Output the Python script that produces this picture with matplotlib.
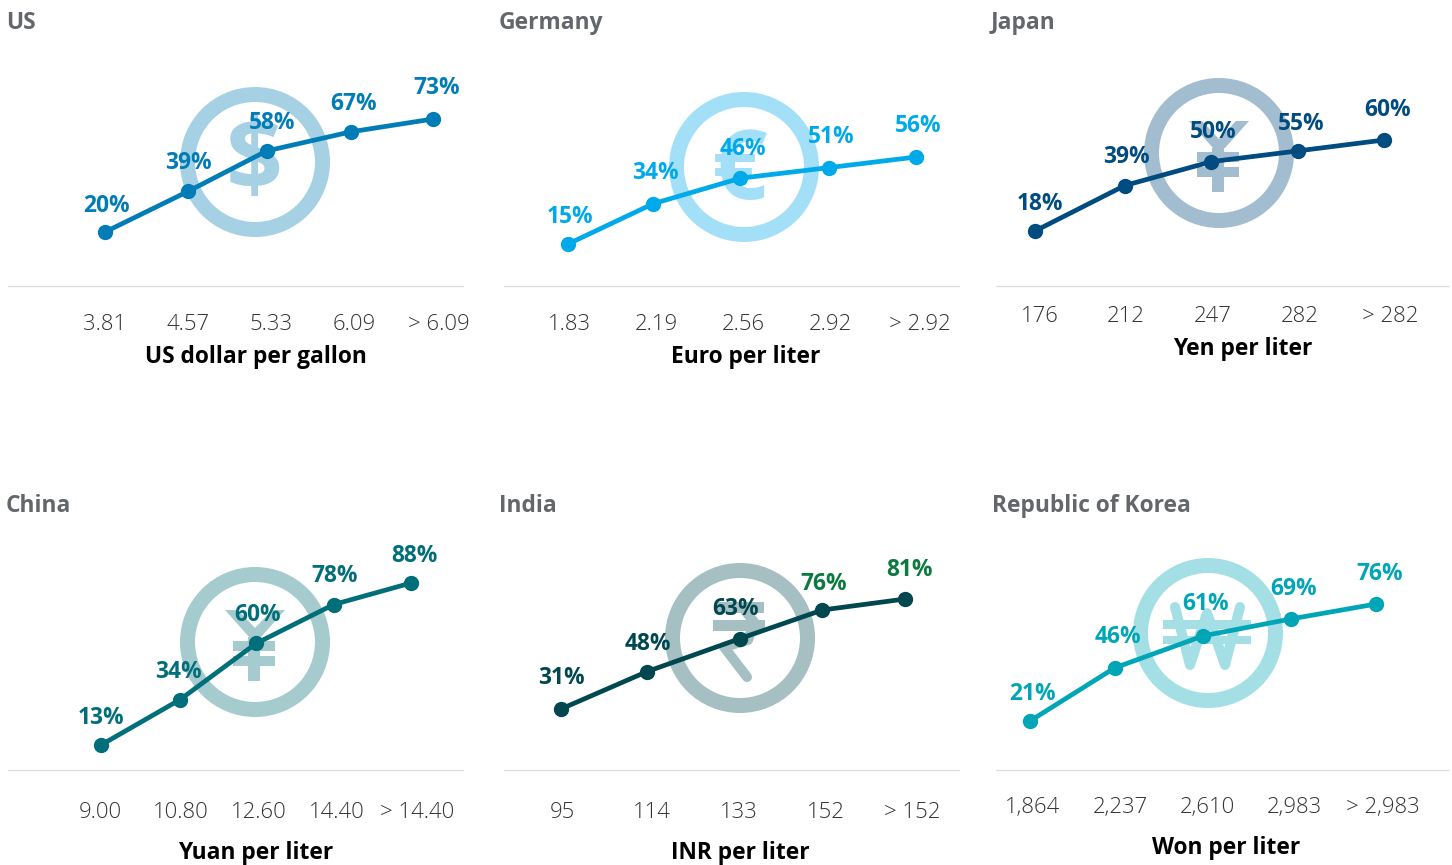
import matplotlib
matplotlib.use("Agg")
import matplotlib.pyplot as plt
from matplotlib.patches import Circle, Polygon, Rectangle
from matplotlib.transforms import Affine2D

W, H = 1452, 865
plt.rcParams['font.family'] = ['Open Sans', 'DejaVu Sans']

# data
countries = ['US', 'Germany', 'Japan', 'China', 'India', 'Republic of Korea']
units = ['US dollar per gallon', 'Euro per liter', 'Yen per liter',
         'Yuan per liter', 'INR per liter', 'Won per liter']
symbols = ['$', '€', 'yen', 'yen', 'rupee', 'won']

us_share = [20, 39, 58, 67, 73]
germany_share = [15, 34, 46, 51, 56]
japan_share = [18, 39, 50, 55, 60]
china_share = [13, 34, 60, 78, 88]
india_share = [31, 48, 63, 76, 81]
korea_share = [21, 46, 61, 69, 76]
shares = [us_share, germany_share, japan_share, china_share, india_share, korea_share]

us_ticks = ['3.81', '4.57', '5.33', '6.09', '> 6.09']
germany_ticks = ['1.83', '2.19', '2.56', '2.92', '> 2.92']
japan_ticks = ['176', '212', '247', '282', '> 282']
china_ticks = ['9.00', '10.80', '12.60', '14.40', '> 14.40']
india_ticks = ['95', '114', '133', '152', '> 152']
korea_ticks = ['1,864', '2,237', '2,610', '2,983', '> 2,983']
ticks = [us_ticks, germany_ticks, japan_ticks, china_ticks, india_ticks, korea_ticks]

# styles
line_colors = ['#007CB6', '#00A9E9', '#004B7F', '#006F79', '#00474F', '#00A6B6']
ring_colors = ['#A6D1E4', '#A3E0F8', '#A3BDD0', '#A5CBCF', '#A5BFC3', '#A4DFE5']
title_color = '#63666A'

# layout, all in reference pixels
# first/last point (x, y) of each line
ends = [(105, 232, 433, 119), (568, 244, 916, 157), (1035, 231, 1384, 140),
        (101, 745, 411, 583), (561, 709, 905, 599), (1030, 721, 1376, 604)]
slots = [[0, 1.01, 1.97, 3, 4], [0, 0.98, 1.98, 3, 4], [0, 1.03, 2.02, 3.02, 4],
         [0, 1.02, 2, 3, 4], [0, 1, 2.08, 3.04, 4], [0, 0.98, 2, 3.02, 4]]
rings = [(255, 162), (744, 167), (1219, 153), (255, 642), (740, 638), (1208, 633)]
text_glyphs = {'$': (254, 164, 72), '€': (740, 173, 70)}
title_pos = [(6, 29), (499, 29), (991, 29), (6, 512), (499, 512), (992, 512)]
rules = [(8, 463, 286), (504, 959, 286), (996, 1448, 286),
         (8, 463, 770), (504, 959, 770), (996, 1448, 770)]
tick_x = [[105, 188, 271, 354, 439], [569, 656, 743, 830, 920], [1040, 1126, 1213, 1300, 1390],
          [100, 181, 259, 337, 417], [562, 652, 739, 826, 912], [1033, 1120, 1207, 1294, 1383]]
tick_y = [325, 325, 317, 813, 813, 807]
unit_pos = [(256, 363), (746, 363), (1243, 355), (256, 859), (740, 859), (1226, 854)]
label_off = [[(1, 26.5), (1, 28.5), (6, 27.5), (3, 27.5), (4, 30.5)],
             [(2, 27.5), (2, 30.5), (3, 29.5), (2, 30.5), (2, 31.5)],
             [(5, 27.5), (2, 28.5), (2, 29.5), (3, 26.5), (4, 30.5)],
             [(0, 27.5), (-2, 27.5), (2, 28.5), (1, 28.5), (3, 27.5)],
             [(0, 31.5), (1, 27.5), (-4, 29.5), (1, 26.5), (4, 28.5)],
             [(2, 27.5), (3, 30.5), (3, 31.5), (2, 29.5), (4, 30.5)]]

fig = plt.figure(figsize=(W / 100, H / 100), dpi=100)
px = Affine2D().scale(1, -1).translate(0, H)  # pixel coords, y down


def add_rect(cx, cy, x0, x1, y0, y1, col):
    fig.add_artist(Rectangle((cx + x0, cy + y0), x1 - x0, y1 - y0, transform=px,
                             fc=col, ec='none', zorder=-1))


def add_stroke(cx, cy, pts, col):
    xs = [cx + p[0] for p in pts]
    ys = [cy + p[1] for p in pts]
    fig.add_artist(plt.Line2D(xs, ys, transform=px, color=col, lw=7.2, zorder=-1,
                              solid_capstyle='round', solid_joinstyle='round'))


def draw_yen(cx, cy, col):
    arms = [(-30, -32), (-17, -32), (0, -14), (17, -32), (30, -32), (6, -5), (-6, -5)]
    fig.add_artist(Polygon([(cx + a, cy + b) for a, b in arms], transform=px, fc=col,
                           ec='none', zorder=-1))
    add_rect(cx, cy, -22, 20, -1, 9, col)
    add_rect(cx, cy, -22, 20, 14, 24, col)
    add_rect(cx, cy, -7, 5, -5, 39, col)


def draw_rupee(cx, cy, col):
    add_rect(cx, cy, -23, 24, -36, -25, col)
    add_rect(cx, cy, -27, 25, -18, -7, col)
    add_stroke(cx, cy, [(3, -30), (14, -16), (8, 2), (-16, 9), (7, 39)], col)


def draw_won(cx, cy, col):
    add_stroke(cx, cy, [(-33, -26), (-18, 32), (-1, -20), (17, 32), (32, -26)], col)
    add_rect(cx, cy, -45, 43, -13, -4, col)
    add_rect(cx, cy, -45, 43, 3, 11, col)


for i in range(6):
    x0, y0, x1, y1 = ends[i]
    ax = fig.add_axes([x0 / W, 1 - y0 / H, (x1 - x0) / W, (y0 - y1) / H])
    ax.set_xlim(0, 4)
    ax.set_ylim(shares[i][0], shares[i][-1])
    ax.axis('off')
    ax.patch.set_alpha(0)
    ax.plot(slots[i], shares[i], color=line_colors[i], lw=3.4, marker='o', ms=10,
            clip_on=False, solid_capstyle='round')
    for j, v in enumerate(shares[i]):
        col = line_colors[i]
        if i == 4 and j >= 3:
            col = '#0B7A3E'
        ax.annotate(f'{v}%', (slots[i][j], v), xytext=label_off[i][j], textcoords='offset pixels',
                    ha='center', va='center', fontsize=16.4, fontweight='bold', color=col,
                    annotation_clip=False)

    # currency ring and symbol sit behind the line
    cx, cy = rings[i]
    fig.add_artist(Circle(rings[i], 67.5, transform=px, fill=False, lw=10.8,
                          ec=ring_colors[i], zorder=-2))
    if symbols[i] in text_glyphs:
        gx, gy, gs = text_glyphs[symbols[i]]
        fig.text(gx, gy, symbols[i], transform=px, ha='center', va='center', fontsize=gs,
                 fontweight='bold', color=ring_colors[i], zorder=-1)
    elif symbols[i] == 'yen':
        draw_yen(cx, cy, ring_colors[i])
    elif symbols[i] == 'rupee':
        draw_rupee(cx, cy, ring_colors[i])
    else:
        draw_won(cx, cy, ring_colors[i])

    tx, ty = title_pos[i]
    fig.text(tx, ty, countries[i], transform=px, ha='left', va='baseline',
             fontsize=16.4, fontweight='bold', color=title_color)

    r0, r1, ry = rules[i]
    fig.add_artist(plt.Line2D([r0, r1], [ry, ry], transform=px, color='#DDDDDD', lw=1))

    for tk, lab in zip(tick_x[i], ticks[i]):
        fig.text(tk, tick_y[i], lab, transform=px, ha='center', va='center',
                 fontsize=15.9, fontweight='light', color='#333333')
    ux, uy = unit_pos[i]
    fig.text(ux, uy, units[i], transform=px, ha='center', va='baseline',
             fontsize=16.4, fontweight='bold', color='black')

fig.savefig('out.png', dpi=100)
